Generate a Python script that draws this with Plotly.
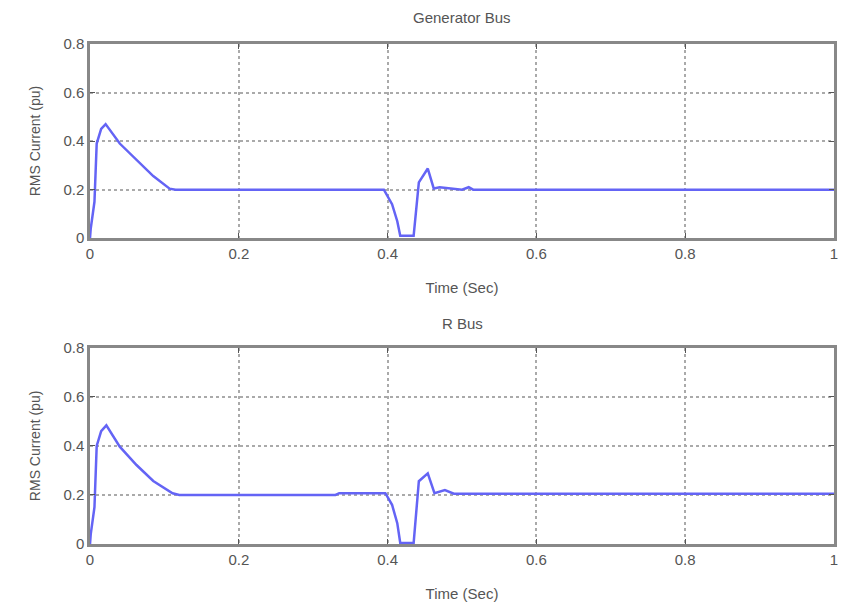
import plotly.graph_objects as go

# Generator Bus RMS current
t_gen = [0.0, 0.001, 0.006, 0.009, 0.015, 0.021, 0.040, 0.0625, 0.085, 0.107, 0.115,
         0.395, 0.406, 0.413, 0.417, 0.435, 0.442, 0.454, 0.462, 0.47, 0.49, 0.50, 0.509, 0.515, 1.0]
i_gen = [0.0, 0.04, 0.15, 0.39, 0.45, 0.47, 0.39, 0.324, 0.256, 0.204, 0.2,
         0.2, 0.14, 0.07, 0.01, 0.01, 0.23, 0.287, 0.205, 0.21, 0.205, 0.2, 0.21, 0.2, 0.2]

# R Bus RMS current
t_r = [0.0, 0.001, 0.006, 0.009, 0.015, 0.022, 0.040, 0.0625, 0.085, 0.111, 0.12,
       0.33, 0.335, 0.397, 0.406, 0.413, 0.417, 0.435, 0.442, 0.454, 0.463, 0.477, 0.489, 0.5, 1.0]
i_r = [0.0, 0.04, 0.15, 0.40, 0.46, 0.484, 0.397, 0.322, 0.257, 0.207, 0.2,
       0.2, 0.207, 0.207, 0.16, 0.085, 0.004, 0.004, 0.256, 0.288, 0.207, 0.22, 0.205, 0.205, 0.205]

x_ticks = [0, 0.2, 0.4, 0.6, 0.8, 1]
x_tick_labels = ["0", "0.2", "0.4", "0.6", "0.8", "1"]
y_ticks = [0, 0.2, 0.4, 0.6, 0.8]
y_tick_labels = ["0", "0.2", "0.4", "0.6", "0.8"]

titles = ["Generator Bus", "R Bus"]
x_title = "Time (Sec)"
y_title = "RMS Current (pu)"

FONT = "Liberation Sans, Arial, sans-serif"
line_color = "rgb(100,100,245)"
fig = go.Figure()
fig.add_trace(go.Scatter(x=t_gen, y=i_gen, mode="lines", line=dict(color=line_color, width=2.5),
                         xaxis="x", yaxis="y", showlegend=False))
fig.add_trace(go.Scatter(x=t_r, y=i_r, mode="lines", line=dict(color=line_color, width=2.5),
                         xaxis="x2", yaxis="y2", showlegend=False))

tick_font = dict(family=FONT, size=15, color="#555555")
common_x = dict(range=[0, 1], tickvals=x_ticks, ticktext=x_tick_labels, showgrid=True,
                gridcolor="#aaaaaa", griddash="dot", gridwidth=1.5, zeroline=False,
                showline=True, mirror="ticks", linecolor="#888888", linewidth=2.5,
                ticks="inside", ticklen=5, tickcolor="#555555", tickfont=tick_font,
                title=dict(text=x_title, font=dict(family=FONT, size=15, color="#555555"), standoff=22))
common_y = dict(range=[0, 0.8], tickvals=y_ticks, ticktext=y_tick_labels, showgrid=True,
                gridcolor="#aaaaaa", griddash="dot", gridwidth=1.5, zeroline=False,
                showline=True, mirror="ticks", linecolor="#888888", linewidth=2.5,
                ticks="inside", ticklen=5, tickcolor="#555555", tickfont=tick_font,
                title=dict(text=y_title, font=dict(family=FONT, size=14, color="#555555"), standoff=20))

fig.update_layout(
    width=848, height=610,
    margin=dict(l=90, r=10, t=44, b=64),
    paper_bgcolor="white", plot_bgcolor="white",
    xaxis=dict(domain=[0, 1], anchor="y", **common_x),
    yaxis=dict(domain=[0.6116, 1], anchor="x", **common_y),
    xaxis2=dict(domain=[0, 1], anchor="y2", **common_x),
    yaxis2=dict(domain=[0, 0.3924], anchor="x2", **common_y),
    annotations=[
        dict(text=titles[0], x=0.5, y=1.0, xref="paper", yref="paper", xanchor="center", yanchor="bottom",
             yshift=16, showarrow=False, font=dict(family=FONT, size=15, color="#555555")),
        dict(text=titles[1], x=0.5, y=0.3924, xref="paper", yref="paper", xanchor="center", yanchor="bottom",
             yshift=14, showarrow=False, font=dict(family=FONT, size=15, color="#555555")),
    ],
)

fig.write_html("out.html")
